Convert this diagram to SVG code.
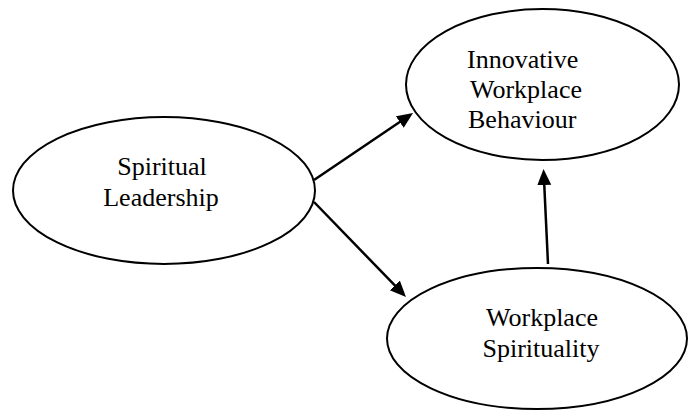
<svg xmlns="http://www.w3.org/2000/svg" width="688" height="411" viewBox="0 0 688 411">
<style>
.node ellipse{fill:#fff;stroke:#000;stroke-width:2}
.node text{font-family:"Liberation Serif","Times New Roman",serif;font-size:26px;fill:#000}
.conn line{stroke:#000;stroke-width:2.5;fill:none}
</style>
<defs>
<marker id="ah" markerUnits="userSpaceOnUse" markerWidth="18" markerHeight="16" refX="8" refY="7.5" orient="auto" viewBox="0 0 18 16">
<path d="M0,0.5 L16,7.5 L0,14.5 z" fill="#000"/>
</marker>
</defs>
<rect width="688" height="411" fill="#fff"/>
<g id="spiritual-leadership" class="node">
<ellipse cx="164" cy="190.5" rx="151" ry="73.5"/>
<text x="162" y="175" text-anchor="middle">Spiritual</text>
<text x="161" y="206" text-anchor="middle">Leadership</text>
</g>
<g id="innovative-workplace-behaviour" class="node">
<ellipse cx="542.5" cy="84.5" rx="136.5" ry="75.5"/>
<text x="467" y="68">Innovative</text>
<text x="470" y="98">Workplace</text>
<text x="468" y="128">Behaviour</text>
</g>
<g id="workplace-spirituality" class="node">
<ellipse cx="537" cy="338.5" rx="150" ry="70.5"/>
<text x="542" y="326" text-anchor="middle">Workplace</text>
<text x="541" y="357" text-anchor="middle">Spirituality</text>
</g>
<g id="connectors" class="conn">
<line x1="314" y1="180" x2="406.4" y2="117.5" marker-end="url(#ah)"/>
<line x1="314" y1="202" x2="400.4" y2="291.2" marker-end="url(#ah)"/>
<line x1="548" y1="264" x2="543.9" y2="177" marker-end="url(#ah)"/>
</g>
</svg>
